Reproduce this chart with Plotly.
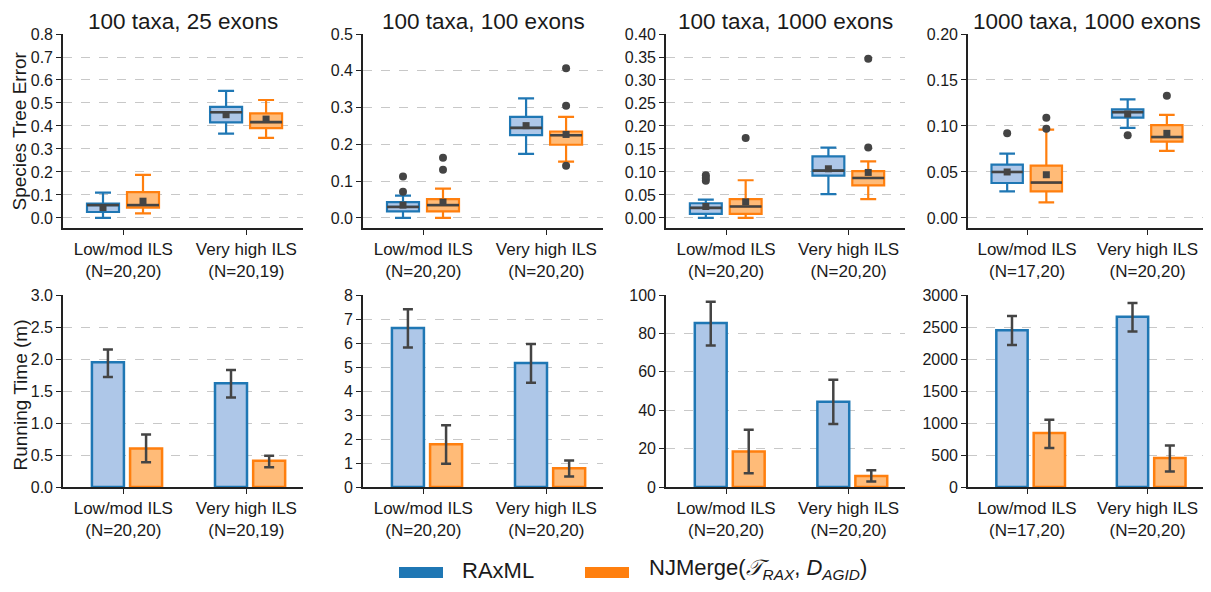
import plotly.graph_objects as go

# ---------------- data ----------------
panel_titles = ["100 taxa, 25 exons", "100 taxa, 100 exons", "100 taxa, 1000 exons", "1000 taxa, 1000 exons"]
categories = ["Low/mod ILS", "Very high ILS"]
n_labels = [["(N=20,20)", "(N=20,19)"], ["(N=20,20)", "(N=20,20)"],
            ["(N=20,20)", "(N=20,20)"], ["(N=17,20)", "(N=20,20)"]]
series_names = ["RAxML", "NJMerge"]

# Species tree error box statistics, per panel, [low/mod, very high]
rax_lo = [[0.0, 0.367], [0.0, 0.174], [0.0, 0.052], [0.029, 0.098]]
rax_q1 = [[0.026, 0.416], [0.018, 0.225], [0.009, 0.092], [0.038, 0.109]]
rax_med = [[0.056, 0.460], [0.030, 0.245], [0.022, 0.103], [0.050, 0.115]]
rax_q3 = [[0.063, 0.483], [0.043, 0.275], [0.032, 0.134], [0.058, 0.118]]
rax_hi = [[0.110, 0.553], [0.061, 0.325], [0.040, 0.153], [0.070, 0.129]]
rax_mean = [[0.045, 0.449], [0.035, 0.251], [0.025, 0.107], [0.050, 0.113]]
rax_out = [[[], []], [[0.071, 0.113], []], [[0.081, 0.087, 0.093], []], [[0.092], [0.090]]]

nj_lo = [[0.020, 0.348], [0.0, 0.153], [0.0, 0.041], [0.017, 0.073]]
nj_q1 = [[0.045, 0.391], [0.018, 0.199], [0.009, 0.071], [0.029, 0.083]]
nj_med = [[0.056, 0.417], [0.035, 0.225], [0.025, 0.087], [0.0385, 0.088]]
nj_q3 = [[0.112, 0.455], [0.051, 0.235], [0.041, 0.102], [0.057, 0.101]]
nj_hi = [[0.187, 0.513], [0.080, 0.275], [0.082, 0.123], [0.096, 0.112]]
nj_mean = [[0.073, 0.430], [0.043, 0.227], [0.035, 0.099], [0.047, 0.092]]
nj_out = [[[], []], [[0.131, 0.164], [0.142, 0.305, 0.407]], [[0.174], [0.153, 0.346]],
          [[0.097, 0.109], [0.133]]]

# Running time (minutes) means and CI bounds
rax_time = [[1.95, 1.62], [6.62, 5.17], [85.4, 44.4], [2449, 2662]]
rax_ci_hi = [[2.15, 1.83], [7.41, 5.96], [96.5, 55.8], [2673, 2876]]
rax_ci_lo = [[1.72, 1.40], [5.81, 4.34], [73.7, 32.8], [2220, 2428]]
nj_time = [[0.60, 0.41], [1.78, 0.78], [18.5, 5.7], [842, 452]]
nj_ci_hi = [[0.82, 0.49], [2.57, 1.10], [29.8, 8.7], [1050, 650]]
nj_ci_lo = [[0.385, 0.31], [0.97, 0.44], [7.1, 2.8], [608, 244]]

top_max = [0.8, 0.5, 0.4, 0.2]
top_dtick = [0.1, 0.1, 0.05, 0.05]
top_fmt = [".1f", ".1f", ".2f", ".2f"]
bot_max = [3, 8, 100, 3000]
bot_dtick = [0.5, 1, 20, 500]
bot_fmt = [".1f", "d", "d", "d"]

# ---------------- style ----------------
PAGE_W, PAGE_H = 1211, 592
BODY = 8  # default browser body margin around the figure
W, H = PAGE_W - 2 * BODY, PAGE_H - 2 * BODY
FONT = "Liberation Sans, Arial, Helvetica, sans-serif"
TXT = "#1a1a1a"
DARK = "#444444"
BLUE, BLUE_F = "#1f77b4", "#aec7e8"
ORANGE, ORANGE_F = "#ff7f0e", "#ffbb78"
GRID = "#c8c8c8"

# layout positions in page (screen) pixels
x_px = [(63, 303), (363, 603), (666, 905), (968, 1206)]
top_px = (34, 228)
bot_px = (295, 487)


def px(sx):
    return (sx - BODY) / W


def py(sy):
    return (H - (sy - BODY)) / H


def xd(p):
    return [px(p[0]), min(px(p[1]), 1.0)]


def yd(p):
    return [py(p[1]), py(p[0])]


box_off = [-0.165, 0.16]
bar_off = [-0.125, 0.185]
bw = 0.26

fig = go.Figure()
shapes = []
annotations = []

cat_idx = list(range(len(categories)))

for p in range(4):
    xt = "x" if p == 0 else f"x{p + 1}"
    yt = "y" if p == 0 else f"y{p + 1}"
    xb = f"x{p + 5}"
    yb = f"y{p + 5}"

    stats = [
        (rax_lo, rax_q1, rax_med, rax_q3, rax_hi, rax_mean, rax_out, BLUE, BLUE_F),
        (nj_lo, nj_q1, nj_med, nj_q3, nj_hi, nj_mean, nj_out, ORANGE, ORANGE_F),
    ]
    for s, (lo, q1, med, q3, hi, mn, out, lc, fc) in enumerate(stats):
        xs = [c + box_off[s] for c in cat_idx]
        fig.add_trace(go.Box(
            x=xs, q1=q1[p], median=med[p], q3=q3[p], lowerfence=lo[p], upperfence=hi[p],
            width=bw, whiskerwidth=0.5, fillcolor=fc, line=dict(color=lc, width=2.2),
            boxpoints=False, showlegend=False, xaxis=xt, yaxis=yt, hoverinfo="skip"))
        for c in cat_idx:
            fig.add_trace(go.Scatter(
                x=[xs[c] - bw / 2, xs[c] + bw / 2], y=[med[p][c], med[p][c]], mode="lines",
                line=dict(color=DARK, width=2.6), showlegend=False, xaxis=xt, yaxis=yt,
                hoverinfo="skip"))
        fig.add_trace(go.Scatter(
            x=xs, y=mn[p], mode="markers",
            marker=dict(symbol="square", size=7, color=DARK), showlegend=False,
            xaxis=xt, yaxis=yt, hoverinfo="skip"))
        ox, oy = [], []
        for c in cat_idx:
            for v in out[p][c]:
                ox.append(xs[c])
                oy.append(v)
        if ox:
            fig.add_trace(go.Scatter(
                x=ox, y=oy, mode="markers", marker=dict(symbol="circle", size=8, color=DARK),
                showlegend=False, xaxis=xt, yaxis=yt, hoverinfo="skip"))

    bars = [(rax_time, rax_ci_hi, rax_ci_lo, BLUE, BLUE_F),
            (nj_time, nj_ci_hi, nj_ci_lo, ORANGE, ORANGE_F)]
    for s, (t, hi, lo, lc, fc) in enumerate(bars):
        xs = [c + bar_off[s] for c in cat_idx]
        fig.add_trace(go.Bar(
            x=xs, y=t[p], width=bw, marker=dict(color=fc, line=dict(color=lc, width=2.5)),
            error_y=dict(type="data", symmetric=False,
                         array=[hi[p][c] - t[p][c] for c in cat_idx],
                         arrayminus=[t[p][c] - lo[p][c] for c in cat_idx],
                         color=DARK, thickness=2.5, width=5),
            showlegend=False, xaxis=xb, yaxis=yb, hoverinfo="skip"))

    ticktext = [f"{categories[c]}<br>{n_labels[p][c]}" for c in cat_idx]
    xcommon = dict(range=[-0.49, 1.46], tickmode="array", tickvals=cat_idx, ticktext=ticktext,
                   showgrid=False, zeroline=False, showline=True, linecolor="#222", linewidth=1.6,
                   ticks="outside", ticklen=5, tickwidth=1.4, tickcolor="#222", automargin=False,
                   tickfont=dict(family=FONT, size=17, color=TXT), fixedrange=True)
    ycommon = dict(showgrid=True, gridcolor=GRID, gridwidth=1.3, griddash="dash", zeroline=False,
                   showline=True, linecolor="#222", linewidth=1.6, ticks="outside", ticklen=5,
                   tickwidth=1.4, tickcolor="#222", automargin=False,
                   tickfont=dict(family=FONT, size=16, color=TXT), fixedrange=True)

    kx = "xaxis" if p == 0 else f"xaxis{p + 1}"
    ky = "yaxis" if p == 0 else f"yaxis{p + 1}"
    fig.layout[kx] = dict(domain=xd(x_px[p]), anchor=yt, **xcommon)
    fig.layout[ky] = dict(domain=yd(top_px), anchor=xt,
                          range=[-0.0545 * top_max[p], top_max[p]], dtick=top_dtick[p], tick0=0,
                          tickformat=top_fmt[p], **ycommon)
    fig.layout[f"xaxis{p + 5}"] = dict(domain=xd(x_px[p]), anchor=yb, **xcommon)
    fig.layout[f"yaxis{p + 5}"] = dict(domain=yd(bot_px), anchor=xb,
                                       range=[0, bot_max[p]], dtick=bot_dtick[p], tick0=0,
                                       tickformat=bot_fmt[p], **ycommon)

    annotations.append(dict(text=panel_titles[p], x=px((x_px[p][0] + x_px[p][1]) / 2),
                            y=1.0, xref="paper", yref="paper", showarrow=False,
                            xanchor="center", yanchor="top", borderpad=0,
                            font=dict(family=FONT, size=22.5, color=TXT)))

annotations.append(dict(text="Species Tree Error", x=0, y=py(131), xref="paper",
                        yref="paper", showarrow=False, textangle=-90, xanchor="left",
                        yanchor="middle", borderpad=0, font=dict(family=FONT, size=19, color=TXT)))
annotations.append(dict(text="Running Time (m)", x=0, y=py(395), xref="paper",
                        yref="paper", showarrow=False, textangle=-90, xanchor="left",
                        yanchor="middle", borderpad=0, font=dict(family=FONT, size=19, color=TXT)))

# legend (manual, wide patches)
for (x0, x1, col) in [(399, 443, BLUE), (585, 629, ORANGE)]:
    shapes.append(dict(type="rect", xref="paper", yref="paper", x0=px(x0), x1=px(x1),
                       y0=py(578), y1=py(567), fillcolor=col, line=dict(width=0)))
annotations.append(dict(text="RAxML", x=px(461), y=0, xref="paper", yref="paper",
                        showarrow=False, xanchor="left", yanchor="bottom", borderpad=0,
                        font=dict(family=FONT, size=22, color=TXT)))
annotations.append(dict(text="NJMerge(<i>𝒯</i><sub><i>RAX</i></sub>, <i>D</i><sub><i>AGID</i></sub>)",
                        x=px(648), y=0, xref="paper", yref="paper",
                        showarrow=False, xanchor="left", yanchor="bottom", borderpad=0,
                        font=dict(family=FONT, size=22, color=TXT)))

fig.update_layout(width=W, height=H, autosize=False, margin=dict(l=0, r=0, t=0, b=0, pad=0),
                  paper_bgcolor="white", plot_bgcolor="white", boxmode="overlay",
                  barmode="overlay", showlegend=False, shapes=shapes, annotations=annotations)

fig.write_html("out.html")
